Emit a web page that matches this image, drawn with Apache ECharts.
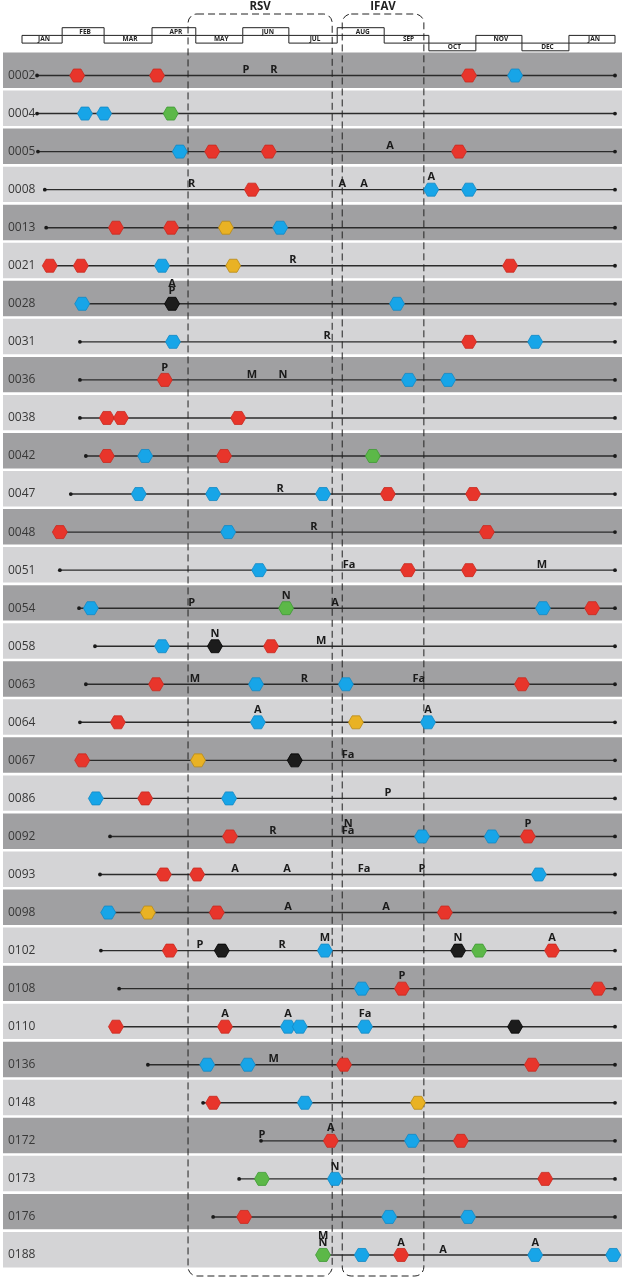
<!DOCTYPE html>
<html><head><meta charset="utf-8">
<script src="https://cdn.jsdelivr.net/npm/echarts@6/dist/echarts.min.js"></script>
<style>html,body{margin:0;padding:0;background:#fff}#c{width:626px;height:1280px}</style>
</head><body><div id="c"></div>
<script>
// ---------------- DATA ----------------
const rows = ['0002','0004','0005','0008','0013','0021','0028','0031','0036','0038','0042','0047','0048','0051','0054','0058','0063','0064','0067','0086','0092','0093','0098','0102','0108','0110','0136','0148','0172','0173','0176','0188'];

// month header (axis unit = months from start of first January)
const monthLabels = ['JAN','FEB','MAR','APR','MAY','JUN','JUL','AUG','SEP','OCT','NOV','DEC','JAN'];
const monthEdges = [0,0.88,1.80,2.85,3.81,4.84,5.85,6.91,7.94,8.92,9.95,10.96,11.99,13];
const monthStep = [1,0,1,0,1,0,1,0,1,2,1,2,1];

// season windows
const windowNames = ['RSV','IFAV'];
const windowStart = [3.64, 7.02];
const windowEnd = [6.80, 8.81];

// follow-up line of each child
const lineStart = [0.33,0.33,0.35,0.50,0.53,0.61,1.32,1.27,1.27,1.27,1.40,1.07,0.83,0.83,1.25,1.60,1.40,1.27,1.32,1.62,1.93,1.71,1.89,1.73,2.13,2.06,2.76,3.97,5.24,4.76,4.19,6.60];
const lineEnd = [13,13,13,13,13,13,13,13,13,13,13,13,13,13,13,13,13,13,13,13,13,13,13,13,13,13,13,13,13,13,13,12.96];

const redHex = [
 ['0002',1.21],['0002',2.96],['0002',9.80],
 ['0005',4.17],['0005',5.41],['0005',9.58],
 ['0008',5.04],
 ['0013',2.06],['0013',3.27],
 ['0021',0.61],['0021',1.29],['0021',10.70],
 ['0031',9.80],
 ['0036',3.13],
 ['0038',1.86],['0038',2.17],['0038',4.74],
 ['0042',1.86],['0042',4.43],
 ['0047',8.02],['0047',9.89],
 ['0048',0.83],['0048',10.19],
 ['0051',8.46],['0051',9.80],
 ['0054',12.50],
 ['0058',5.46],
 ['0063',2.94],['0063',10.96],
 ['0064',2.10],
 ['0067',1.32],
 ['0086',2.70],
 ['0092',4.56],['0092',11.09],
 ['0093',3.11],['0093',3.84],
 ['0098',4.27],['0098',9.27],
 ['0102',3.24],['0102',11.62],
 ['0108',8.33],['0108',12.63],
 ['0110',2.06],['0110',4.45],
 ['0136',7.06],['0136',11.18],
 ['0148',4.19],
 ['0172',6.77],['0172',9.62],
 ['0173',11.47],
 ['0176',4.87],
 ['0188',8.31]
];
const blueHex = [
 ['0002',10.81],
 ['0004',1.38],['0004',1.80],
 ['0005',3.46],
 ['0008',8.97],['0008',9.80],
 ['0013',5.66],
 ['0021',3.07],
 ['0028',1.32],['0028',8.22],
 ['0031',3.31],['0031',11.25],
 ['0036',8.48],['0036',9.34],
 ['0042',2.70],
 ['0047',2.56],['0047',4.19],['0047',6.60],
 ['0048',4.52],
 ['0051',5.20],
 ['0054',1.51],['0054',11.42],
 ['0058',3.07],
 ['0063',5.13],['0063',7.10],
 ['0064',5.17],['0064',8.90],
 ['0086',1.62],['0086',4.54],
 ['0092',8.77],['0092',10.30],
 ['0093',11.33],
 ['0098',1.89],
 ['0102',6.64],
 ['0108',7.45],
 ['0110',5.83],['0110',6.09],['0110',7.52],
 ['0136',4.06],['0136',4.95],
 ['0148',6.20],
 ['0172',8.55],
 ['0173',6.86],
 ['0176',8.05],['0176',9.78],
 ['0188',7.45],['0188',11.25],['0188',12.96]
];
const greenHex = [['0004',3.26],['0042',7.69],['0054',5.79],['0102',10.02],['0173',5.26],['0188',6.60]];
const yellowHex = [['0013',4.47],['0021',4.63],['0064',7.32],['0067',3.86],['0098',2.76],['0148',8.68]];
const blackHex = [['0028',3.29],['0058',4.23],['0067',5.98],['0102',4.38],['0102',9.56],['0110',10.81]];

// letter annotations: [row, month, text, stacking level]
const letterMarks = [
 ['0002',4.91,'P',0],['0002',5.52,'R',0],
 ['0005',8.07,'A',0],
 ['0008',3.72,'R',0],['0008',7.02,'A',0],['0008',7.50,'A',0],['0008',8.97,'A',1],
 ['0021',5.94,'R',0],
 ['0028',3.29,'P',1],['0028',3.29,'A',2],
 ['0031',6.69,'R',0],
 ['0036',3.13,'P',1],['0036',5.04,'M',0],['0036',5.72,'N',0],
 ['0047',5.66,'R',0],
 ['0048',6.40,'R',0],
 ['0051',7.17,'Fa',0],['0051',11.40,'M',0],
 ['0054',3.72,'P',0],['0054',5.79,'N',1],['0054',6.86,'A',0],
 ['0058',4.23,'N',1],['0058',6.56,'M',0],
 ['0063',3.79,'M',0],['0063',6.19,'R',0],['0063',8.70,'Fa',0],
 ['0064',5.17,'A',1],['0064',8.90,'A',1],
 ['0067',7.15,'Fa',0],
 ['0086',8.02,'P',0],
 ['0092',5.50,'R',0],['0092',7.15,'Fa',0],['0092',7.15,'N',1],['0092',11.09,'P',1],
 ['0093',4.67,'A',0],['0093',5.81,'A',0],['0093',7.50,'Fa',0],['0093',8.77,'P',0],
 ['0098',5.83,'A',0],['0098',7.98,'A',0],
 ['0102',3.90,'P',0],['0102',5.70,'R',0],['0102',6.64,'M',1],['0102',9.56,'N',1],['0102',11.62,'A',1],
 ['0108',8.33,'P',1],
 ['0110',4.45,'A',1],['0110',5.83,'A',1],['0110',7.52,'Fa',1],
 ['0136',5.52,'M',0],
 ['0172',5.26,'P',0],['0172',6.77,'A',1],
 ['0173',6.86,'N',1],
 ['0188',6.60,'N',1],['0188',6.60,'M',2],['0188',8.31,'A',1],['0188',9.23,'A',0],['0188',11.25,'A',1]
];

// ---------------- CHART ----------------
const chart = echarts.init(document.getElementById('c'), null, {renderer:'canvas'});
const rowIdx = r => rows.indexOf(r);
const HEX = 'path://M0,6.5L3.75,0L11.25,0L15,6.5L11.25,13L3.75,13Z';
function hexSeries(name, arr, color, border) {
  return {
    type:'scatter', name, z:5, symbol:HEX, symbolSize:[15,13],
    itemStyle:{color, borderColor:border, borderWidth:0.8, opacity:1},
    data: arr.map(d => [d[1], rowIdx(d[0])]), silent:true, animation:false
  };
}

const option = {
  backgroundColor:'#ffffff',
  animation:false,
  grid:{left:22, right:11, top:56.5, bottom:6},
  xAxis:{type:'value', min:0, max:13, show:false},
  yAxis:{
    type:'category', data:rows, inverse:true, z:10,
    axisLine:{show:false}, axisTick:{show:false}, splitLine:{show:false},
    axisLabel:{align:'left', margin:14, fontSize:12, color:'#383838', fontFamily:'Open Sans'}
  },
  series:[
    { // row bands
      type:'custom', z:1, silent:true,
      data: rows.map((r,i)=>[0,i]),
      encode:{x:0, y:1},
      renderItem:(params, api)=>{
        const cs = params.coordSys;
        const y = api.coord([0, api.value(1)])[1];
        const h = api.size([0,1])[1];
        const i = api.value(1);
        return {type:'rect', shape:{x:cs.x-19, y:y-5.3-h/2+1.3, width:cs.width+26, height:h-2.6},
          style:{fill: i%2===0 ? '#a0a0a2' : '#d4d4d6'}};
      }
    },
    { // header months
      type:'custom', z:3, silent:true,
      data: monthLabels.map((m,i)=>[monthEdges[i], monthEdges[i+1], monthStep[i]]),
      encode:{x:[0,1]},
      renderItem:(params, api)=>{
        const cs = params.coordSys;
        const x1 = api.coord([api.value(0),0])[0];
        const x2 = api.coord([api.value(1),0])[0];
        const top = cs.y - 28.8 + api.value(2)*7.7;
        return {type:'group', children:[
          {type:'rect', shape:{x:x1, y:top, width:x2-x1, height:7.7},
            style:{fill:'#fff', stroke:'#222', lineWidth:1}},
          {type:'text', style:{text:monthLabels[params.dataIndex], x:(x1+x2)/2+2, y:top+4.1,
            textAlign:'center', textVerticalAlign:'middle', font:'bold 6.5px "Open Sans"', fill:'#222'}}
        ]};
      }
    },
    { // follow-up lines
      type:'custom', z:2, silent:true,
      data: rows.map((r,i)=>[lineStart[i], lineEnd[i], i]),
      encode:{x:[0,1], y:2},
      renderItem:(params, api)=>{
        const p1 = api.coord([api.value(0), api.value(2)]);
        const p2 = api.coord([api.value(1), api.value(2)]);
        return {type:'group', children:[
          {type:'line', shape:{x1:p1[0], y1:p1[1], x2:p2[0], y2:p2[1]}, style:{stroke:'#2b2b2b', lineWidth:1.4}},
          {type:'circle', shape:{cx:p1[0], cy:p1[1], r:1.9}, style:{fill:'#1a1a1a'}},
          {type:'circle', shape:{cx:p2[0], cy:p2[1], r:1.9}, style:{fill:'#1a1a1a'}}
        ]};
      }
    },
    { // season windows
      type:'custom', z:4, silent:true,
      data: windowNames.map((n,i)=>[windowStart[i], windowEnd[i]]),
      encode:{x:[0,1]},
      renderItem:(params, api)=>{
        const cs = params.coordSys;
        const x1 = api.coord([api.value(0),0])[0];
        const x2 = api.coord([api.value(1),0])[0];
        return {type:'group', children:[
          {type:'rect', shape:{x:x1, y:cs.y-42.5, width:x2-x1, height:cs.height+44.5, r:9},
            style:{fill:'none', stroke:'#222', lineWidth:1, lineDash:[7,4]}},
          {type:'text', style:{text:windowNames[params.dataIndex], x:(x1+x2)/2, y:cs.y-49.5,
            textAlign:'center', textVerticalAlign:'middle', font:'bold 11.5px "Open Sans"', fill:'#222'}}
        ]};
      }
    },
    hexSeries('red', redHex, '#e8352b', '#c8291f'),
    hexSeries('blue', blueHex, '#17a5e8', '#1388c4'),
    hexSeries('green', greenHex, '#5cb848', '#3f9a34'),
    hexSeries('yellow', yellowHex, '#e9b224', '#b88a18'),
    hexSeries('black', blackHex, '#1c1c1c', '#000'),
    { // letters
      type:'custom', z:6, silent:true,
      data: letterMarks.map(d=>[d[1], rowIdx(d[0]), d[3]]),
      encode:{x:0, y:1},
      renderItem:(params, api)=>{
        const p = api.coord([api.value(0), api.value(1)]);
        const lvl = api.value(2);
        return {type:'text', style:{text:letterMarks[params.dataIndex][2], x:p[0], y:p[1]-5.5-7*lvl,
          textAlign:'center', textVerticalAlign:'middle', font:'bold 11px "Open Sans"', fill:'#1a1a1a'}};
      }
    }
  ]
};
chart.setOption(option);
</script>
</body></html>
